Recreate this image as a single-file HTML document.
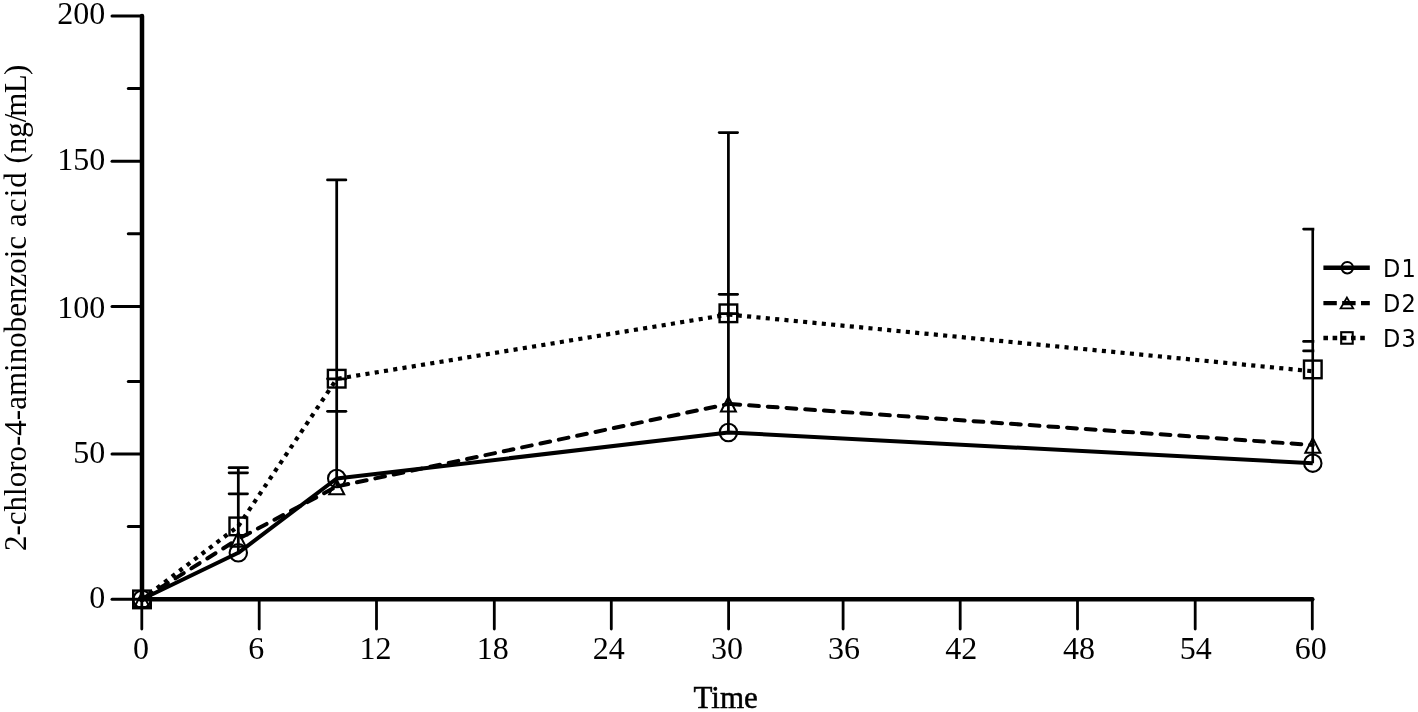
<!DOCTYPE html>
<html><head><meta charset="utf-8"><title>2-chloro-4-aminobenzoic acid vs Time</title>
<style>html,body{margin:0;padding:0;background:#fff;}body{width:1418px;height:712px;overflow:hidden;}svg{display:block;}</style>
</head><body>
<svg width="1418" height="712" viewBox="0 0 1418 712">
<rect width="100%" height="100%" fill="#fff"/>
<polyline points="142.0,599.3 238.3,552.8 336.7,478.5 728.4,432.5 1312.8,463.2" fill="none" stroke="#000" stroke-width="4" stroke-linejoin="round"/>
<g fill="none" stroke="#000" stroke-width="4">
<line x1="142.0" y1="599.3" x2="238.3" y2="539.0" stroke-dasharray="9.80 8.95" stroke-dashoffset="-2.00" stroke-linecap="round"/>
<line x1="238.3" y1="539.0" x2="336.7" y2="486.5" stroke-dasharray="9.80 8.95" stroke-dashoffset="-3.50" stroke-linecap="round"/>
<line x1="336.7" y1="486.5" x2="728.4" y2="403.9" stroke-dasharray="9.80 8.95" stroke-dashoffset="-2.00" stroke-linecap="round"/>
<line x1="728.4" y1="403.9" x2="1312.8" y2="445.0" stroke-dasharray="9.80 8.95" stroke-dashoffset="-2.00" stroke-linecap="round"/>
</g>
<g fill="none" stroke="#000" stroke-width="4.2">
<line x1="142.0" y1="599.4" x2="238.3" y2="526.2" stroke-dasharray="4.10 5.28"/>
<line x1="238.3" y1="526.2" x2="336.7" y2="378.9" stroke-dasharray="4.10 5.28"/>
<line x1="336.7" y1="378.9" x2="728.4" y2="314.5" stroke-dasharray="4.10 5.28" stroke-dashoffset="-1.00"/>
<line x1="728.4" y1="314.5" x2="1312.8" y2="371.3" stroke-dasharray="4.10 5.28"/>
</g>
<defs><clipPath id="pc"><rect x="0" y="0" width="1314.3" height="712"/></clipPath></defs>
<g stroke="#000" stroke-width="2.75" fill="none" clip-path="url(#pc)">
<line x1="238.3" y1="467.7" x2="238.3" y2="552.8"/>
<line x1="229.1" y1="467.7" x2="247.5" y2="467.7" stroke-linecap="round"/>
<line x1="229.1" y1="472.8" x2="247.5" y2="472.8" stroke-linecap="round"/>
<line x1="229.1" y1="493.8" x2="247.5" y2="493.8" stroke-linecap="round"/>
<line x1="336.7" y1="179.9" x2="336.7" y2="486.5"/>
<line x1="327.5" y1="179.9" x2="345.9" y2="179.9" stroke-linecap="round"/>
<line x1="327.5" y1="378.8" x2="345.9" y2="378.8" stroke-linecap="round"/>
<line x1="327.5" y1="411.3" x2="345.9" y2="411.3" stroke-linecap="round"/>
<line x1="728.4" y1="132.5" x2="728.4" y2="432.5"/>
<line x1="719.2" y1="132.5" x2="737.6" y2="132.5" stroke-linecap="round"/>
<line x1="719.2" y1="294.3" x2="737.6" y2="294.3" stroke-linecap="round"/>
<line x1="719.2" y1="313.7" x2="737.6" y2="313.7" stroke-linecap="round"/>
<line x1="1312.8" y1="229.1" x2="1312.8" y2="463.2"/>
<line x1="1303.6" y1="229.1" x2="1322.0" y2="229.1" stroke-linecap="round"/>
<line x1="1303.6" y1="341.4" x2="1322.0" y2="341.4" stroke-linecap="round"/>
<line x1="1303.6" y1="350.9" x2="1322.0" y2="350.9" stroke-linecap="round"/>
</g>
<g stroke="#000" fill="none">
<circle cx="142.0" cy="599.3" r="8.7" stroke-width="2.1"/>
<polygon points="134.5,607.0 149.5,607.0 142.0,592.4" stroke-width="2" stroke-linejoin="miter"/>
<rect x="133.2" y="590.6" width="17.6" height="17.6" stroke-width="2.4"/>
<circle cx="238.3" cy="552.8" r="8.7" stroke-width="2.1"/>
<polygon points="230.8,546.7 245.8,546.7 238.3,532.1" stroke-width="2" stroke-linejoin="miter"/>
<rect x="229.5" y="517.6" width="17.6" height="17.6" stroke-width="2.4"/>
<circle cx="336.7" cy="478.5" r="8.7" stroke-width="2.1"/>
<polygon points="329.2,494.2 344.2,494.2 336.7,479.6" stroke-width="2" stroke-linejoin="miter"/>
<rect x="327.9" y="369.9" width="17.6" height="17.6" stroke-width="2.4"/>
<circle cx="728.4" cy="432.5" r="8.7" stroke-width="2.1"/>
<polygon points="720.9,411.6 735.9,411.6 728.4,397.0" stroke-width="2" stroke-linejoin="miter"/>
<rect x="719.6" y="304.5" width="17.6" height="17.6" stroke-width="2.4"/>
<circle cx="1312.8" cy="463.2" r="8.7" stroke-width="2.1"/>
<polygon points="1305.3,452.7 1320.3,452.7 1312.8,438.1" stroke-width="2" stroke-linejoin="miter"/>
<rect x="1304.0" y="360.6" width="17.6" height="17.6" stroke-width="2.4"/>
</g>
<g stroke="#000" fill="none" stroke-linecap="butt">
<path d="M142.0,15.9 V600.2" stroke-width="4.5" stroke-linecap="round"/>
<path d="M140.0,599.2 H1312.3" stroke-width="4.5" stroke-linecap="round"/>
<line x1="112" y1="599.3" x2="142.0" y2="599.3" stroke-width="3" stroke-linecap="round"/>
<line x1="112" y1="454.0" x2="142.0" y2="454.0" stroke-width="3" stroke-linecap="round"/>
<line x1="112" y1="306.4" x2="142.0" y2="306.4" stroke-width="3" stroke-linecap="round"/>
<line x1="112" y1="161.2" x2="142.0" y2="161.2" stroke-width="3" stroke-linecap="round"/>
<line x1="112" y1="15.9" x2="142.0" y2="15.9" stroke-width="3" stroke-linecap="round"/>
<line x1="128.3" y1="88.5" x2="142.0" y2="88.5" stroke-width="3" stroke-linecap="round"/>
<line x1="128.3" y1="233.7" x2="142.0" y2="233.7" stroke-width="3" stroke-linecap="round"/>
<line x1="128.3" y1="381.4" x2="142.0" y2="381.4" stroke-width="3" stroke-linecap="round"/>
<line x1="128.3" y1="526.6" x2="142.0" y2="526.6" stroke-width="3" stroke-linecap="round"/>
<line x1="141.8" y1="599.2" x2="141.8" y2="629" stroke-width="2.8" stroke-linecap="round"/>
<line x1="259.2" y1="599.2" x2="259.2" y2="629" stroke-width="2.8" stroke-linecap="round"/>
<line x1="376.5" y1="599.2" x2="376.5" y2="629" stroke-width="2.8" stroke-linecap="round"/>
<line x1="494.3" y1="599.2" x2="494.3" y2="629" stroke-width="2.8" stroke-linecap="round"/>
<line x1="611.3" y1="599.2" x2="611.3" y2="629" stroke-width="2.8" stroke-linecap="round"/>
<line x1="728.6" y1="599.2" x2="728.6" y2="629" stroke-width="2.8" stroke-linecap="round"/>
<line x1="843.1" y1="599.2" x2="843.1" y2="629" stroke-width="2.8" stroke-linecap="round"/>
<line x1="960.2" y1="599.2" x2="960.2" y2="629" stroke-width="2.8" stroke-linecap="round"/>
<line x1="1077.5" y1="599.2" x2="1077.5" y2="629" stroke-width="2.8" stroke-linecap="round"/>
<line x1="1195.2" y1="599.2" x2="1195.2" y2="629" stroke-width="2.8" stroke-linecap="round"/>
<line x1="1312.3" y1="599.2" x2="1312.3" y2="629" stroke-width="2.8" stroke-linecap="round"/>
</g>
<g font-family='"Liberation Serif", "Times New Roman", serif' font-size="32" fill="#000">
<text x="105.2" y="24.4" text-anchor="end">200</text>
<text x="105.2" y="170.0" text-anchor="end">150</text>
<text x="105.2" y="317.6" text-anchor="end">100</text>
<text x="105.2" y="462.8" text-anchor="end">50</text>
<text x="105.2" y="607.7" text-anchor="end">0</text>
<text x="141.1" y="658.9" text-anchor="middle">0</text>
<text x="256.3" y="658.9" text-anchor="middle">6</text>
<text x="375.4" y="658.9" text-anchor="middle">12</text>
<text x="492.8" y="658.9" text-anchor="middle">18</text>
<text x="608.8" y="658.9" text-anchor="middle">24</text>
<text x="727.1" y="658.9" text-anchor="middle">30</text>
<text x="844.0" y="658.9" text-anchor="middle">36</text>
<text x="961.3" y="658.9" text-anchor="middle">42</text>
<text x="1079.1" y="658.9" text-anchor="middle">48</text>
<text x="1195.7" y="658.9" text-anchor="middle">54</text>
<text x="1310.8" y="658.9" text-anchor="middle">60</text>
<text x="725.6" y="708.2" font-size="31" stroke="#000" stroke-width="0.5" text-anchor="middle">Time</text>
<text transform="translate(25.8,0) rotate(-90)" x="-551" font-size="31">2-chloro-4-aminobenzoic <tspan dx="1.3" letter-spacing="1">acid</tspan> (ng<tspan letter-spacing="-3.2">/</tspan><tspan letter-spacing="-0.7">mL</tspan>)</text>
</g>
<g stroke="#000" fill="none">
<line x1="1323.4" y1="267.7" x2="1369.8" y2="267.7" stroke-width="4.4"/>
<circle cx="1347.3" cy="267.7" r="5.8" stroke-width="2"/>
<line x1="1323.4" y1="303.1" x2="1369.8" y2="303.1" stroke-width="4.3" stroke-dasharray="13.4 5.4"/>
<polygon points="1340.6,308.4 1353.2,308.4 1346.9,297.6" stroke-width="1.8"/>
<line x1="1323.4" y1="338" x2="1366" y2="338" stroke-width="4.5" stroke-dasharray="4.6 4.6"/>
<rect x="1341.2" y="332.2" width="11.5" height="11.5" stroke-width="2.1"/>
</g>
<g font-family='"DejaVu Sans Condensed", "DejaVu Sans", "Liberation Sans", sans-serif' font-size="25" letter-spacing="1.3" fill="#000">
<text x="1382.9" y="276.7">D1</text>
<text x="1382.9" y="311.8">D2</text>
<text x="1382.9" y="346.9">D3</text>
</g>
</svg>
</body></html>
